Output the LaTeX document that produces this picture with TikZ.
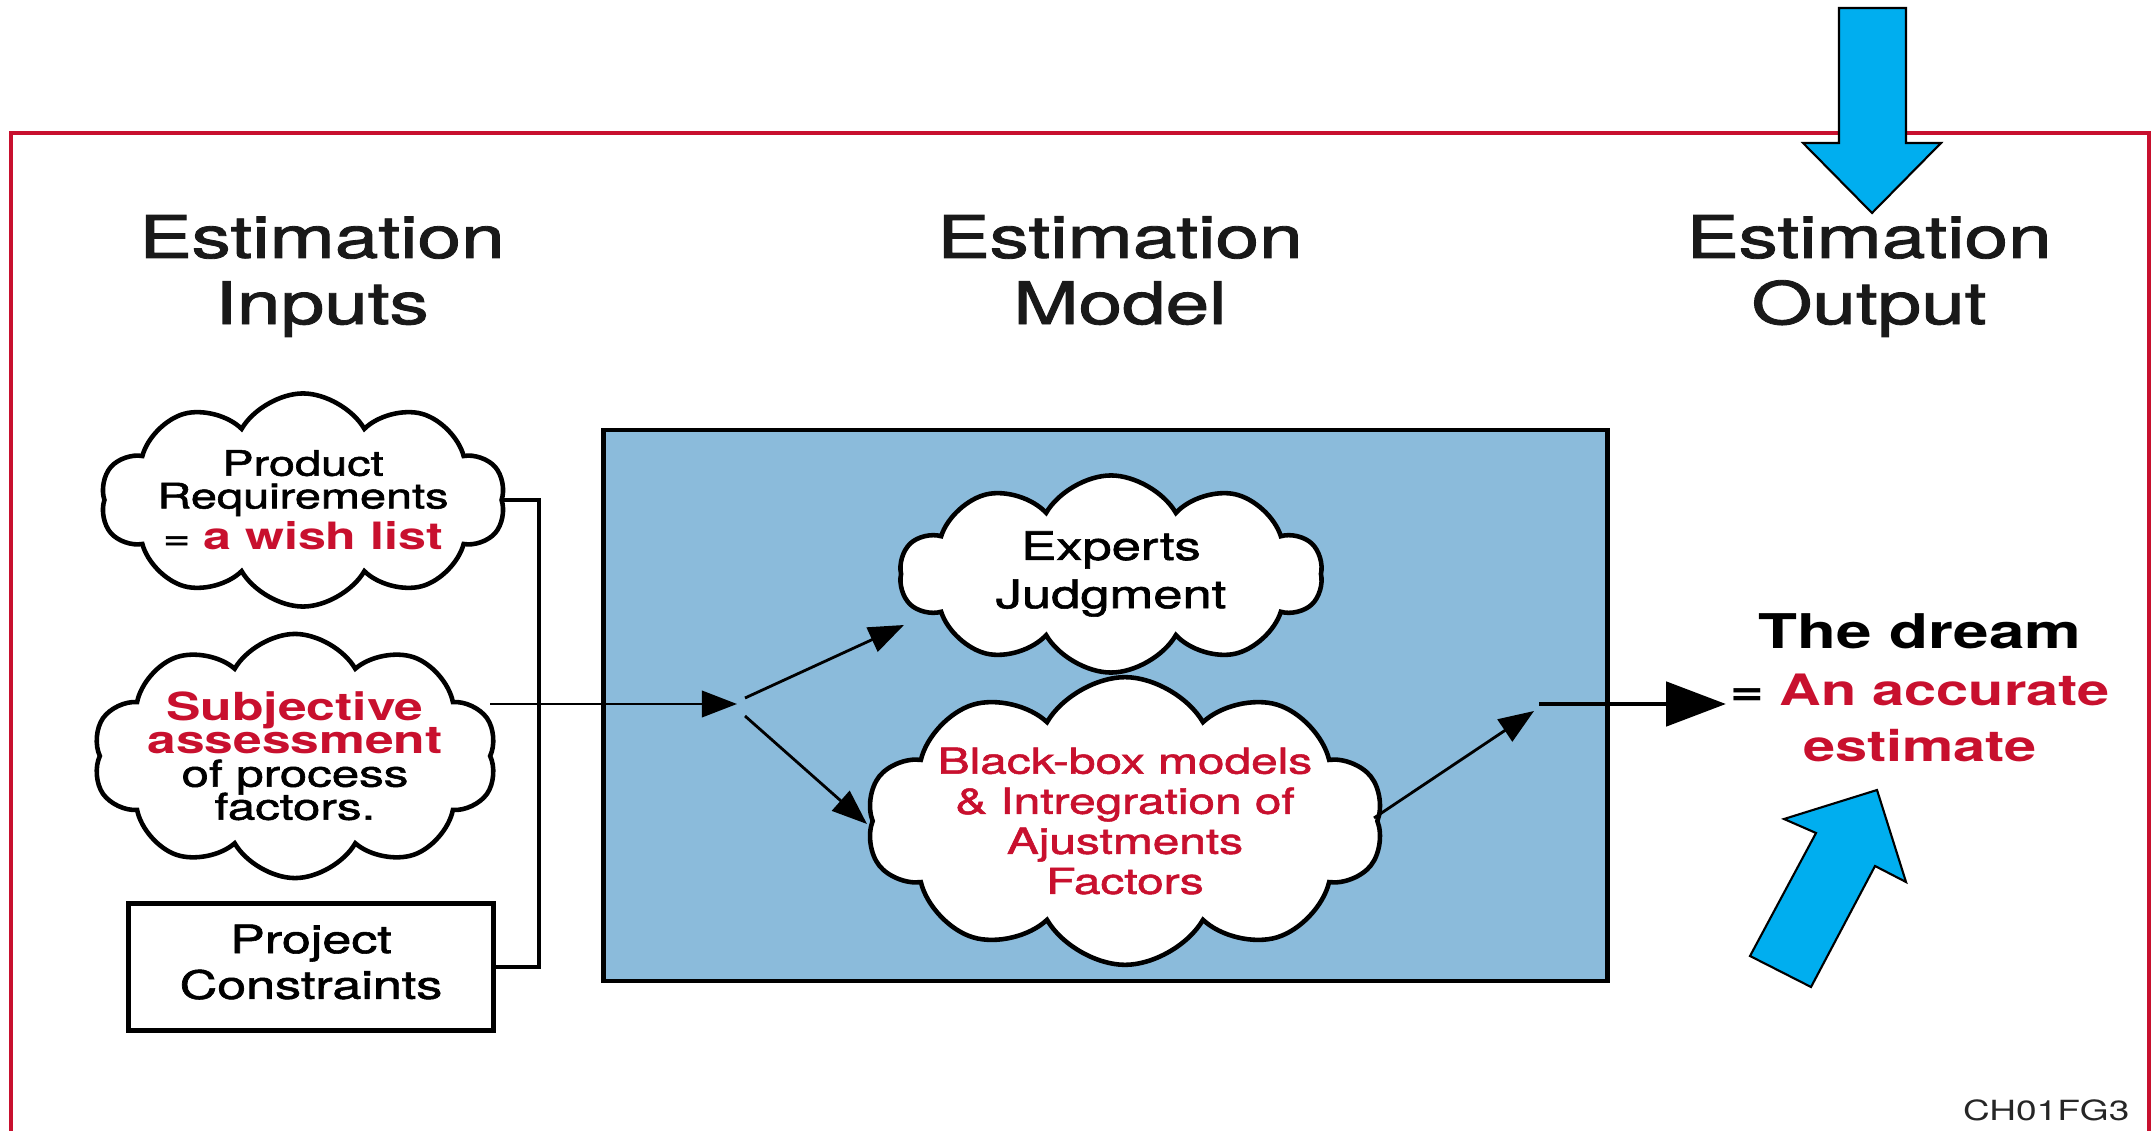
\documentclass[tikz,border=0pt]{standalone}
\usepackage{fontspec}
\setmainfont{TeX Gyre Heros}[UprightFeatures={FakeBold=1.4}]
\newfontfamily\thinfont{TeX Gyre Heros}
\usepackage{graphicx}
\usetikzlibrary{shapes.symbols,arrows.meta,calc}
\definecolor{myred}{HTML}{C8102E}
\definecolor{modelblue}{HTML}{8BBBDB}
\definecolor{cyanarrow}{HTML}{00AEEF}
\newcommand{\sx}[1]{\scalebox{1.333}[1]{#1}}
\newcommand{\tightls}{\lineskiplimit=-20pt\lineskip=0pt}
\begin{document}
\begin{tikzpicture}[x=0.01cm,y=-0.01cm,
  puff/.style={cloud, cloud puffs=10, cloud puff arc=120, cloud ignores aspect, draw=black, line width=1.3pt, fill=white, inner sep=0pt, align=center},
  hdr/.style={align=center, inner sep=0pt, font={\fontsize{16.7}{18.8}\selectfont\tightls}, text=black!90},
  arr/.style={line width=0.8pt, -{Triangle[length=10pt,width=7.5pt]}},
  bigarr/.style={line width=1.4pt, -{Triangle[length=17pt,width=12.5pt]}},
  fat/.style={fill=cyanarrow, draw=black, line width=0.6pt, line join=miter},
  frame/.style={draw=myred, line width=0.9pt}
]
\useasboundingbox (0,0) rectangle (2152,1131);
% red frame
\draw[frame] (11,1140) -- (11,133) -- (2149,133) -- (2149,1140);
% headers
\node[hdr] (hin) at (322,276) {\sx{Estimation}\\\sx{Inputs}};
\node[hdr] (hmod) at (1120,270) {\sx{Estimation}\\\sx{Model}};
\node[hdr] (hout) at (1869,276) {\sx{Estimation}\\\sx{Output}};
% inputs
\node[puff, inner xsep=-1.3pt, minimum width=3.92cm, minimum height=2.13cm, font={\fontsize{10}{9.3}\selectfont\tightls}] (req) at (303,500)
  {\sx{Product}\\\sx{Requirements}\\[2.4pt]\sx{=~{\fontsize{10.7}{12}\selectfont\bfseries\color{myred}a wish list}}};
\node[puff, inner xsep=-2.7pt, minimum width=3.82cm, minimum height=2.44cm, font={\fontsize{10.5}{9.4}\selectfont\tightls}] (subj) at (295,756)
  {\sx{\fontsize{11}{9.4}\selectfont\bfseries\color{myred}Subjective}\\\sx{\fontsize{11}{9.4}\selectfont\bfseries\color{myred}assessment}\\\sx{of process}\\\sx{factors.}};
\node[draw, line width=1.3pt, minimum width=3.65cm, minimum height=1.27cm, inner sep=0pt, text depth=3pt, align=center, font={\fontsize{11.1}{13}\selectfont\tightls}] (cons) at (311,967)
  {\sx{Project}\\\sx{Constraints}};
% model
\node[draw, fill=modelblue, line width=1.3pt, minimum width=10.03cm, minimum height=5.51cm, inner sep=0pt] (model) at (1105.5,705.5) {};
\node[puff, minimum width=4.22cm, minimum height=1.97cm, font={\fontsize{11.2}{13.7}\selectfont\tightls}] (exp) at (1111,574)
  {\sx{Experts}\\\sx{Judgment}};
\node[puff, inner xsep=-2.5pt, minimum width=4.96cm, minimum height=2.79cm, font={\fontsize{10.2}{11.4}\selectfont\tightls}, text=myred] (bb) at (1125,821)
  {\sx{Black-box models}\\\sx{\& Intregration of}\\\sx{Ajustments}\\\sx{Factors}};
% output
\node[align=center, inner sep=0pt, font={\fontsize{12.3}{16}\selectfont\bfseries\tightls}] (dream) at (1920,688)
  {\sx{\fontsize{13.6}{16}\selectfont The dream}\\\sx{=~\color{myred}An accurate}\\\sx{\color{myred}estimate}};
\node[anchor=base east, inner sep=0pt, font={\thinfont\fontsize{7.9}{9}\selectfont}, text=black!85] (code) at (2130,1120) {\sx{CH01FG3}};
% connectors
\coordinate (bartop) at (539,500);
\coordinate (barbot) at (539,967);
\draw[line width=1.1pt] (req.east) -- (bartop) -- (barbot) -- (cons.east);
\coordinate (inpt) at (737,704);
\draw[arr] ($(subj.center)+(195,-52)$) -- (inpt);
\coordinate (sp1) at (745,698);
\coordinate (sp2) at (745,716);
\draw[arr] (sp1) -- ($(exp.center)+(-207,51)$);
\draw[arr] (sp2) -- ($(bb.center)+(-258,3)$);
\coordinate (jn) at (1539,704);
\coordinate (jtip) at (1534,711);
\draw[arr] ($(bb.center)+(249,-3)$) -- (jtip);
\draw[bigarr, shorten >=1pt] (jn) -- (dream.west |- jn);
% cyan arrows
\draw[fat] (1839,8) -- (1906,8) -- (1906,143) -- (1941,143) -- (1872,213) -- (1803,143) -- (1839,143) -- cycle;
\draw[fat] (1750,956) -- (1811,987) -- (1875,866) -- (1906,882) -- (1877,790) -- (1784,819) -- (1816,833) -- cycle;
\end{tikzpicture}
\end{document}
